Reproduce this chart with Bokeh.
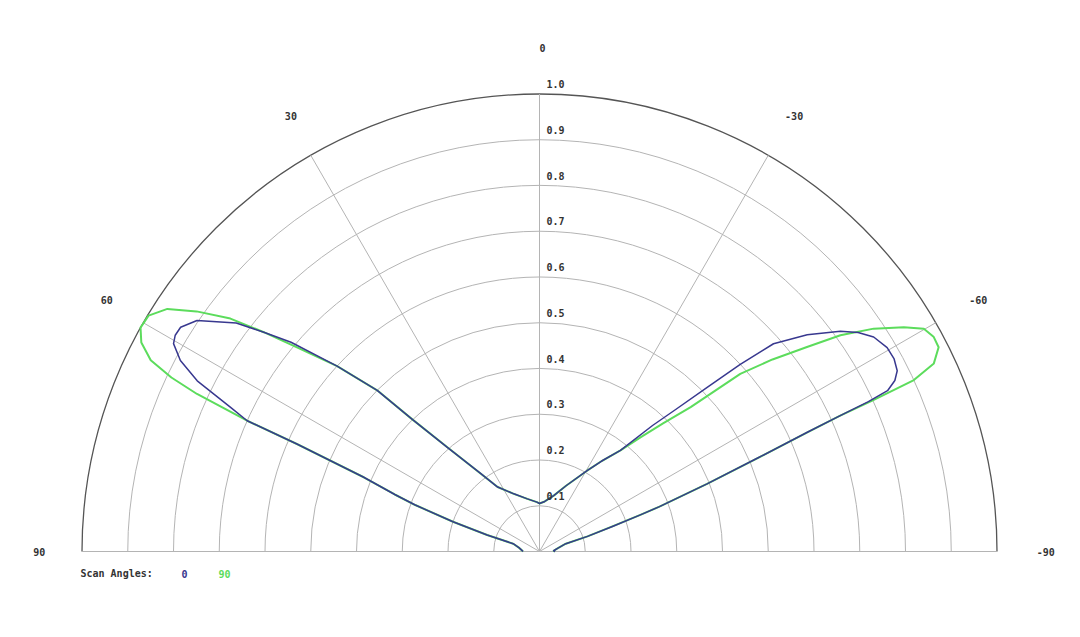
import numpy as np
from bokeh.plotting import figure
from bokeh.models import Range1d
from bokeh.embed import file_html
from bokeh.resources import INLINE
from bokeh.core.properties import value

# ---------------- data (angle in degrees, positive = left of 0) ----------------
green_theta = [-90, -87, -80, -73.5, -72.5, -71, -70, -69.5, -68, -66.8, -66.0, -65.7, -65.6,
               -65.4, -64.5, -62.9, -61.4, -59.9, -58.4, -56.3, -54.3, -52.6, -50.5, -48.5,
               -46.3, -44.0, -41.5, -38.7, -34.5, -30.5, -22, -14.3, -6, 0, 3, 13, 24, 33, 37,
               41.5, 43.9, 45.2, 47.5, 49.9, 51.5, 53.0, 55.0, 56.9, 58.9, 60.7, 62.3, 63.8,
               64.7, 65.3, 65.9, 66.1, 67.1, 68.5, 69.5, 71.0, 72.5, 73.5, 80, 87, 90]
green_r = [0.034, 0.031, 0.04, 0.06, 0.11, 0.17, 0.236, 0.28, 0.395, 0.52, 0.642, 0.72, 0.80,
           0.90, 0.955, 0.980, 0.981, 0.971, 0.935, 0.878, 0.81, 0.736, 0.66, 0.586,
           0.457, 0.39, 0.333, 0.283, 0.24, 0.205, 0.155, 0.126, 0.11, 0.105, 0.108, 0.118, 0.138, 0.168, 0.213,
           0.304, 0.40, 0.50, 0.60, 0.693, 0.77, 0.846, 0.915, 0.971, 0.998, 1.0, 0.983, 0.947,
           0.89, 0.824, 0.70, 0.58, 0.417, 0.34, 0.29, 0.20, 0.12, 0.06, 0.045, 0.038, 0.036]

blue_theta = [-90, -87, -80, -73.5, -72.5, -71, -70, -69.5, -68, -66.8, -66.0, -65.7, -65.5,
              -65.2, -64.3, -63.2, -61.5, -59.6, -57.3, -55.5, -53.8, -51.0, -48.4, -47.0,
              -45.6, -43.8, -41.9, -38.7, -34.5, -30.5, -22, -14.3, -6, 0, 3, 13, 24, 33, 37,
              41.5, 43.9, 45.2, 47.5, 49.9, 51.5, 53.0, 56.0, 58.0, 59.3, 60.4, 62.0, 63.5,
              65.0, 65.9, 66.1, 67.1, 68.5, 69.5, 71.0, 72.5, 73.5, 80, 87, 90]
blue_r = [0.034, 0.031, 0.04, 0.06, 0.11, 0.17, 0.236, 0.28, 0.395, 0.52, 0.642, 0.72, 0.79,
          0.838, 0.862, 0.876, 0.882, 0.881, 0.868, 0.845, 0.815, 0.753, 0.684, 0.60,
          0.513, 0.43, 0.37, 0.283, 0.24, 0.205, 0.155, 0.126, 0.11, 0.105, 0.108, 0.118, 0.138, 0.168, 0.213,
          0.304, 0.40, 0.50, 0.60, 0.71, 0.77, 0.83, 0.903, 0.925, 0.926, 0.920, 0.889, 0.836,
          0.745, 0.70, 0.58, 0.417, 0.34, 0.29, 0.20, 0.12, 0.06, 0.045, 0.038, 0.036]

ring_values = [0.1, 0.2, 0.3, 0.4, 0.5, 0.6, 0.7, 0.8, 0.9, 1.0]
ring_labels = ["0.1", "0.2", "0.3", "0.4", "0.5", "0.6", "0.7", "0.8", "0.9", "1.0"]
spoke_angles = [-90, -60, -30, 0, 30, 60, 90]
spoke_labels = ["-90", "-60", "-30", "0", "30", "60", "90"]
series_names = ["0", "90"]
series_colors = ["#38388f", "#5cdc5c"]
legend_title = "Scan Angles:"

# ---------------- layout ----------------
W, H = 1064, 621
R = 457.5          # pixels for r = 1
CX, CY = 539, 551  # centre in canvas pixels

p = figure(width=W, height=H, output_backend="svg", toolbar_location=None,
           x_range=Range1d(-CX / R, (W - CX) / R), y_range=Range1d(-(H - CY) / R, CY / R),
           min_border=0, outline_line_color=None, background_fill_color="white")
p.xaxis.visible = False
p.yaxis.visible = False
p.grid.visible = False

FONT = value("DejaVu Sans Mono")
TXT = "#333333"


def pol(theta_deg, r):
    t = np.radians(np.asarray(theta_deg, dtype=float))
    r = np.asarray(r, dtype=float)
    return -r * np.sin(t), r * np.cos(t)


# rings
inner = ring_values[:-1]
p.arc(x=0, y=0, radius=inner, start_angle=0, end_angle=np.pi,
      line_color="#b4b4b4", line_width=1)
p.arc(x=0, y=0, radius=[ring_values[-1]], start_angle=0, end_angle=np.pi,
      line_color="#555555", line_width=1.3)

# spokes
sx, sy = pol(spoke_angles, [1.0] * len(spoke_angles))
p.segment(x0=0, y0=0, x1=sx, y1=sy, line_color="#b4b4b4", line_width=1)

# series
gx, gy = pol(green_theta, green_r)
p.line(gx, gy, line_color=series_colors[1], line_width=2, line_join="round")
bx, by = pol(blue_theta, blue_r)
p.line(bx, by, line_color=series_colors[0], line_width=1.5, line_join="round")

# radial labels
p.text(x=[0] * len(ring_values), y=[v + 10 / R for v in ring_values], text=ring_labels,
       x_offset=7, text_align="left", text_baseline="middle",
       text_font=FONT, text_font_size="10px", text_font_style="bold", text_color=TXT)

# angle labels
lx, ly = pol(spoke_angles, [1.1] * len(spoke_angles))
p.text(x=lx, y=ly, text=spoke_labels, x_offset=3, text_align="center", text_baseline="middle",
       text_font=FONT, text_font_size="10px", text_font_style="bold", text_color=TXT)

# legend
leg_y = -(573 - CY) / R
p.text(x=[(80 - CX) / R], y=[leg_y], text=[legend_title], text_align="left",
       text_baseline="middle", text_font=FONT, text_font_size="10px",
       text_font_style="bold", text_color=TXT)
p.text(x=[(184 - CX) / R, (224 - CX) / R], y=[leg_y, leg_y], text=series_names,
       text_align="center", text_baseline="middle", text_font=FONT, text_font_size="10px",
       text_font_style="bold", text_color=series_colors)

open("out.html", "w").write(file_html(p, INLINE))
